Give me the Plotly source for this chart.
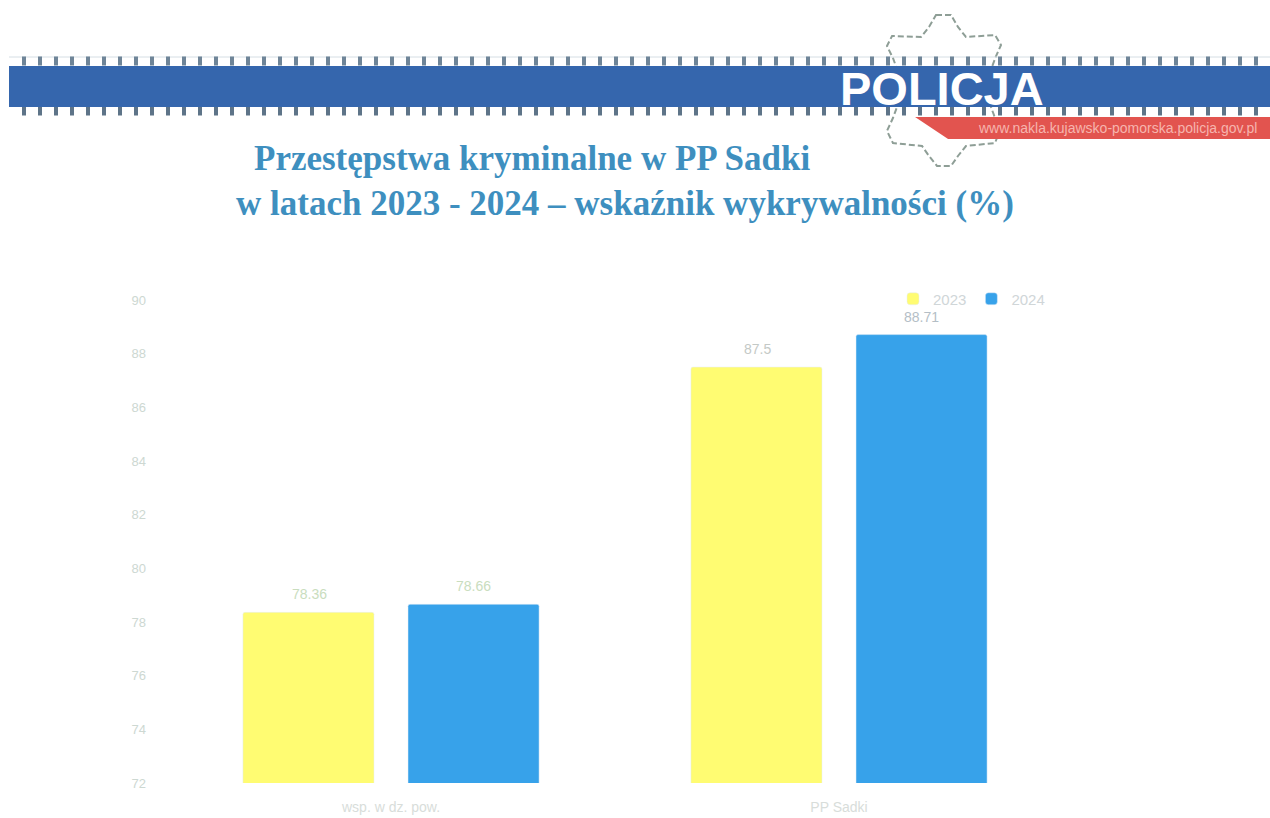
import plotly.graph_objects as go

W, H = 1270, 818

categories = ["wsp. w dz. pow.", "PP Sadki"]
series_2023 = [78.36, 87.5]
series_2024 = [78.66, 88.71]
labels_2023 = ["78.36", "87.5"]
labels_2024 = ["78.66", "88.71"]
label_colors_2023 = ["#C9DDBE", "#C4C9C6"]
label_colors_2024 = ["#C9DDBE", "#B4BEC6"]
y_ticks = [72, 74, 76, 78, 80, 82, 84, 86, 88, 90]

TITLE_1 = "Przestępstwa kryminalne w PP Sadki"
TITLE_2 = "w latach 2023 - 2024 – wskaźnik wykrywalności (%)"
BRAND = "POLICJA"
URL = "www.nakla.kujawsko-pomorska.policja.gov.pl"

YELLOW = "#FFFC72"
BLUE = "#37A2EA"
BAND = "#3566AD"
RED = "#E2544F"
TITLE_COL = "#3E8FBF"


def px(x):
    return x / W


def py(y):
    return 1 - y / H


def path(points):
    return "M" + " L".join(f"{px(x):.4f},{py(y):.4f}" for x, y in points) + " Z"


STAR = [
    (936, 15), (951, 15), (958, 27), (966, 37), (995, 35), (1001, 45), (996, 56),
    (984, 88), (995, 118), (1000, 130), (995, 143), (966, 146), (958, 156),
    (951, 166), (937, 166), (929, 156), (922, 146), (893, 143), (887, 131),
    (893, 118), (904, 88), (893, 58), (887, 46), (892, 36), (921, 37), (929, 27),
]

fig = go.Figure()
fig.add_bar(name="2023", x=categories, y=series_2023, marker=dict(color=YELLOW))
fig.add_bar(name="2024", x=categories, y=series_2024, marker=dict(color=BLUE))

shapes = [
    dict(type="path", path=path(STAR), fillcolor="white",
         line=dict(color="#8E9E96", width=2, dash="6px,3px")),
    dict(type="line", x0=px(9), x1=1, y0=py(57), y1=py(57), line=dict(color="#D5DEE4", width=1)),
    dict(type="line", x0=px(22), x1=1, y0=py(61), y1=py(61),
         line=dict(color="#6F8598", width=9, dash="4px,12px")),
    dict(type="line", x0=px(22), x1=1, y0=py(111), y1=py(111),
         line=dict(color="#5E7488", width=9, dash="4px,12px")),
    dict(type="rect", x0=px(9), x1=1, y0=py(107), y1=py(66), fillcolor=BAND, line=dict(width=0)),
    dict(type="path", path=path([(915, 117), (W, 117), (W, 139), (948, 139)]),
         fillcolor=RED, line=dict(width=0)),
]
for s in shapes:
    s.update(xref="paper", yref="paper", layer="below")

annotations = [
    dict(text=f"<b>{BRAND}</b>", x=px(942), y=py(89),
         font=dict(family="Liberation Sans", size=47, color="white")),
    dict(text=URL, x=px(1117), y=py(128),
         font=dict(family="Liberation Sans", size=14, color="#F6B5AE")),
    dict(text=f"<b>{TITLE_1}</b>", x=px(532), y=py(159),
         font=dict(family="Liberation Serif", size=35, color=TITLE_COL)),
    dict(text=f"<b>{TITLE_2}</b>", x=px(625), y=py(203),
         font=dict(family="Liberation Serif", size=35, color=TITLE_COL)),
]
for a in annotations:
    a.update(xref="paper", yref="paper", xanchor="center", yanchor="middle", showarrow=False)

# Value labels sit a little higher above the bars than Plotly's own outside text.
for shift, values, labels, colors in (
    (-82, series_2023, labels_2023, label_colors_2023),
    (82, series_2024, labels_2024, label_colors_2024),
):
    for cat, value, label, color in zip(categories, values, labels, colors):
        annotations.append(dict(
            x=cat, y=value, text=label, xref="x", yref="y", showarrow=False,
            xanchor="center", yanchor="bottom", xshift=shift, yshift=8,
            font=dict(size=14, color=color),
        ))

fig.update_layout(
    width=W, height=H,
    margin=dict(l=0, r=0, t=0, b=0),
    paper_bgcolor="white", plot_bgcolor="white",
    barmode="group", bargap=0.263, bargroupgap=0.206,
    barcornerradius=2,
    shapes=shapes, annotations=annotations,
    font=dict(family="Liberation Sans"),
    legend=dict(
        orientation="h", x=px(893), y=py(299), xanchor="left", yanchor="middle",
        font=dict(size=15, color="#D0D6D8"), bgcolor="rgba(0,0,0,0)",
        itemwidth=30, traceorder="normal",
    ),
    xaxis=dict(
        domain=[px(167), px(1063)], showgrid=False, showline=False, zeroline=False,
        ticks="", tickfont=dict(size=14, color="#D8DDDA"), ticklabelstandoff=14,
        anchor="y", automargin=False,
    ),
    yaxis=dict(
        domain=[py(783), py(300)], range=[72, 90], tickvals=y_ticks, showgrid=False,
        showline=False, zeroline=False, ticks="",
        tickfont=dict(size=13, color="#CDD8D2"), ticklabelstandoff=20, anchor="x",
        automargin=False,
    ),
)

fig.write_html("out.html", config=dict(displayModeBar=False),
               post_script="document.body.style.margin='0';")
